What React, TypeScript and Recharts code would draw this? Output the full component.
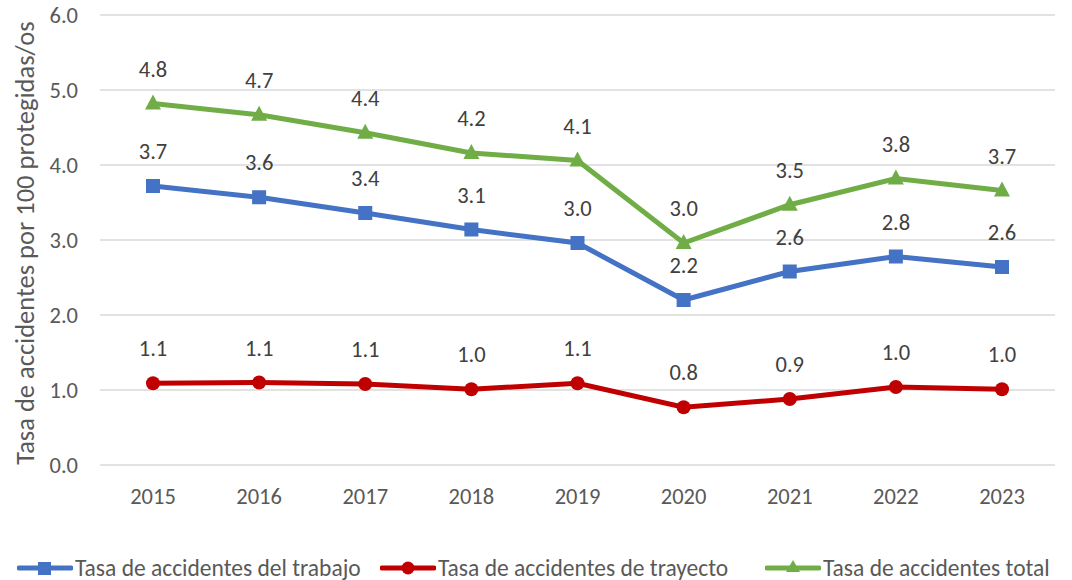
import { LineChart, Line, XAxis, YAxis, CartesianGrid, LabelList } from "recharts";

const years = ["2015", "2016", "2017", "2018", "2019", "2020", "2021", "2022", "2023"];
const trabajo = [3.72, 3.57, 3.36, 3.14, 2.96, 2.2, 2.58, 2.78, 2.64];
const trayecto = [1.09, 1.1, 1.08, 1.01, 1.09, 0.77, 0.88, 1.04, 1.01];
const total = [4.82, 4.67, 4.43, 4.16, 4.06, 2.96, 3.47, 3.82, 3.66];
const yTicks = [0, 1, 2, 3, 4, 5, 6];

const data = years.map((year, i) => ({
  year,
  trabajo: trabajo[i],
  trayecto: trayecto[i],
  total: total[i],
}));

const FONT = "Carlito, Lato, sans-serif";
const TEXT = "#595959";
const BLUE = "#4472C4";
const RED = "#C00000";
const GREEN = "#70AD47";

const SquareDot = (props: any) => {
  const { cx, cy } = props;
  if (cx == null || cy == null) return null;
  return <rect x={cx - 7} y={cy - 7} width={14} height={14} fill={BLUE} />;
};

const CircleDot = (props: any) => {
  const { cx, cy } = props;
  if (cx == null || cy == null) return null;
  return <circle cx={cx} cy={cy} r={7} fill={RED} />;
};

const TriangleDot = (props: any) => {
  const { cx, cy } = props;
  if (cx == null || cy == null) return null;
  return <path d={`M${cx},${cy - 9} L${cx + 8},${cy + 6} L${cx - 8},${cy + 6} Z`} fill={GREEN} />;
};

const valueLabel = (props: any) => {
  const { x, y, value } = props;
  return (
    <text x={x} y={y - 27} textAnchor="middle" fontSize={22.5} fontFamily={FONT} fill="#404040">
      {Number(value).toFixed(1)}
    </text>
  );
};

const legendItems = [
  { name: "Tasa de accidentes del trabajo", color: BLUE, shape: "square", left: 17 },
  { name: "Tasa de accidentes de trayecto", color: RED, shape: "circle", left: 380 },
  { name: "Tasa de accidentes total", color: GREEN, shape: "triangle", left: 765 },
];

export default function App() {
  return (
    <div style={{ position: "relative", width: 1072, height: 580, background: "#fff", fontFamily: FONT }}>
      <style>{"body{margin:0}"}</style>
      <LineChart width={1072} height={580} data={data} margin={{ top: 15, right: 17, bottom: 0, left: 0 }}>
        <CartesianGrid vertical={false} stroke="#D9D9D9" strokeWidth={1.5} />
        <XAxis
          dataKey="year"
          axisLine={false}
          tickLine={false}
          tickMargin={17}
          height={115}
          padding={{ left: 53, right: 53 }}
          tick={{ fontSize: 22.5, fill: TEXT, fontFamily: FONT }}
        />
        <YAxis
          domain={[0, 6]}
          ticks={yTicks}
          width={100}
          axisLine={false}
          tickLine={false}
          tickMargin={16}
          tickFormatter={(v: number) => v.toFixed(1)}
          tick={{ fontSize: 22.5, fill: TEXT, fontFamily: FONT }}
          label={{
            content: (p: any) => {
              const vb = p.viewBox || {};
              const cx = 25;
              const cy = (vb.y ?? 15) + (vb.height ?? 450) / 2 + 3;
              return (
                <text
                  x={cx}
                  y={cy}
                  transform={`rotate(-90, ${cx}, ${cy})`}
                  textAnchor="middle"
                  dominantBaseline="central"
                  fontSize={26.5}
                  fontFamily={FONT}
                  fill={TEXT}
                >
                  Tasa de accidentes por 100 protegidas/os
                </text>
              );
            },
          }}
        />
        <Line dataKey="trabajo" stroke={BLUE} strokeWidth={5} dot={<SquareDot />} activeDot={false} isAnimationActive={false}>
          <LabelList dataKey="trabajo" content={valueLabel} />
        </Line>
        <Line dataKey="trayecto" stroke={RED} strokeWidth={5} dot={<CircleDot />} activeDot={false} isAnimationActive={false}>
          <LabelList dataKey="trayecto" content={valueLabel} />
        </Line>
        <Line dataKey="total" stroke={GREEN} strokeWidth={5} dot={<TriangleDot />} activeDot={false} isAnimationActive={false}>
          <LabelList dataKey="total" content={valueLabel} />
        </Line>
      </LineChart>
      {legendItems.map((item) => (
        <div
          key={item.name}
          style={{ position: "absolute", left: item.left, top: 555, height: 26, display: "flex", alignItems: "center" }}
        >
          <svg width={56} height={20}>
            <line x1={2} y1={10} x2={54} y2={10} stroke={item.color} strokeWidth={5} strokeLinecap="round" />
            {item.shape === "square" && <rect x={21} y={4} width={13} height={13} fill={item.color} />}
            {item.shape === "circle" && <circle cx={28} cy={10} r={6.5} fill={item.color} />}
            {item.shape === "triangle" && <path d="M28,2 L35,14 L21,14 Z" fill={item.color} />}
          </svg>
          <span style={{ fontSize: 23.5, color: TEXT, marginLeft: 2, whiteSpace: "nowrap" }}>{item.name}</span>
        </div>
      ))}
    </div>
  );
}
